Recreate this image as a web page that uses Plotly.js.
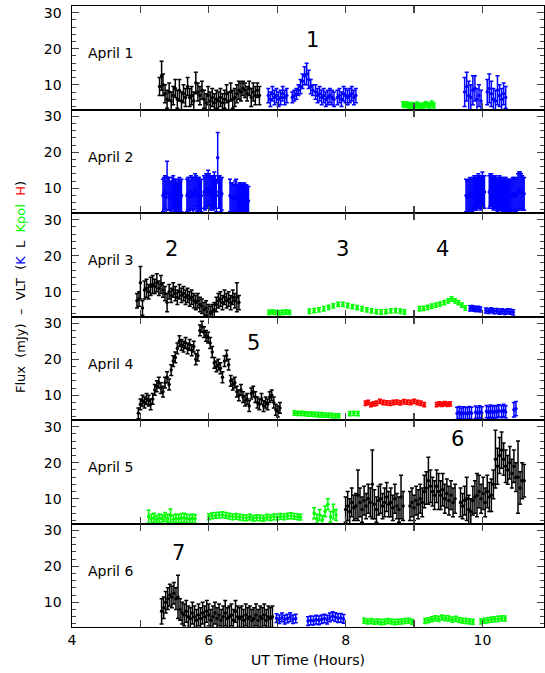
<!DOCTYPE html>
<html>
<head>
<meta charset="utf-8">
<script src="https://cdn.plot.ly/plotly-3.0.1.min.js"></script>
<style>
  html, body { margin: 0; padding: 0; background: #fff; }
  #chart { width: 545px; height: 673px; }
</style>
</head>
<body>
<div id="chart"></div>
<script>
// ---- April 1 ----
const apr1LTime = [5.28,5.31,5.33,5.36,5.39,5.42,5.45,5.48,5.51,5.54,5.57,5.60,5.63,5.66,5.69,5.72,5.75,5.78,5.81,5.84,5.87,5.90,5.93,5.96,5.99,6.02,6.05,6.08,6.11,6.14,6.17,6.20,6.23,6.26,6.29,6.32,6.35,6.38,6.41,6.44,6.47,6.50,6.53,6.56,6.59,6.62,6.65,6.68,6.71,6.74];
const apr1LFlux = [9.5,12.5,10,7.5,6,8,5.5,7,9,6,8.5,5.5,7.5,6.5,9.5,6.5,7,5.5,10.5,8,7,8.5,6,5,7,5.5,6.5,5,6,5.5,6.5,5,6,7.5,5.5,8,6,6.5,7.5,8.5,8,9,8.5,7.5,9,6.5,8,7,8.5,7];
const apr1LErr  = [2.5,4,3,2.5,2.5,2.5,2.5,2.5,2.5,2.5,3,2.5,2.5,2.5,2.5,2.5,2.5,2.5,3,2.5,2.5,2.5,2.5,2.5,2.5,2.5,2.5,2.5,2.5,2.5,2.5,2.5,2.5,2.5,2.5,2.5,2.5,2.5,2.5,2.5,2.5,2,2,2,2,2.5,2.5,2.5,2,2.5];
const apr1KTime = [6.87,6.90,6.93,6.96,6.99,7.02,7.05,7.08,7.11,7.14, 7.22,7.25,7.28,7.31,7.34,7.37,7.40,7.43,7.46,7.49,7.52, 7.56,7.59,7.62,7.65,7.68,7.71,7.74,7.77,7.80,7.83, 7.88,7.91,7.94,7.97,8.00,8.03,8.06,8.09,8.12,8.15, 9.74,9.77,9.80,9.83,9.86,9.89,9.92,9.95,9.98, 10.07,10.10,10.13,10.16,10.19,10.22,10.25,10.28,10.31,10.34];
const apr1KFlux = [7,6,7.5,6.5,7,6,6.5,7.5,6.5,7, 6.5,7,7.5,8.5,9.5,11,12.5,13,11.5,9.5,8.5, 8,7,7.5,6.5,7,6,6.5,7,6.5,6, 6.5,7,6,7.5,7,6.5,7,7.5,6.5,7, 8,9.5,7,6.5,8.5,9,6,7,5.5, 8,9,7.5,6,5.5,8.5,7,6,7.5,6.5];
const apr1KErr  = [2,2,2,2,2,2,2,2,2,2, 1.5,1.5,1.5,1.5,2,2,2.5,3,2.5,2,1.5, 2,2,2,2,2,2,2,2,2,2, 2,2,2,2,2,2,2,2,2,2, 4,4,4,3.5,4,3.5,3,3,3, 3.5,4,3.5,3,3,4,3,3,3,3];
const apr1KpolTime = [8.84,8.87,8.90,8.93,8.96,8.99,9.02,9.05,9.08,9.11,9.14,9.17,9.20,9.23,9.26,9.29];
const apr1KpolFlux = [4.6,4.4,4.5,4.2,4.4,4.1,4.3,4.5,4.2,4.0,4.3,4.6,4.4,4.2,4.8,4.3];

// ---- April 2 ----
const apr2KTime = [5.33,5.345,5.36,5.375,5.39,5.405,5.42,5.435,5.45,5.465,5.48,5.495,5.51,5.525,5.54,5.555,5.57,5.585,5.60, 5.68,5.695,5.71,5.725,5.74,5.755,5.77,5.785,5.80,5.815,5.83,5.845,5.86,5.875,5.89, 5.93,5.945,5.96,5.975,5.99,6.005,6.02,6.035,6.05,6.065,6.08,6.095,6.11,6.13,6.145,6.16,6.175,6.19, 6.31,6.325,6.34,6.355,6.37,6.385,6.40,6.415,6.43,6.445,6.46,6.475,6.49,6.505,6.52,6.535,6.55,6.565,6.58, 9.76,9.775,9.79,9.805,9.82,9.835,9.85,9.865,9.88,9.895,9.91,9.925,9.94,9.955,9.97,9.985,10.00,10.015,10.03, 10.10,10.115,10.13,10.145,10.16,10.175,10.19,10.205,10.22,10.235,10.25,10.265,10.28,10.295,10.31,10.325,10.34,10.355,10.37,10.385,10.40,10.415,10.43,10.445,10.46,10.475,10.49,10.505,10.52,10.535,10.55,10.565,10.58,10.595,10.61];
const apr2KFlux = [8,8.5,9,7.5,13,8.5,8.5,7,7.5,8.5,9,8,8,7.5,7,8,8.5,7.5,8, 8,8.5,8.5,7.5,9,8.5,8,8.5,9.5,9,8,8.5,8.5,7.5,8, 9,8.5,9.5,9,10,9.5,8.5,9,9,8.5,9.5,9,8,18.5,9,9,8,8.5, 8,7.5,7.5,7,7,7.5,8,7,7,7.5,7.5,7,7,7.5,7.5,7,7,6.5,6.5, 8,7.5,7.5,8,8.5,8,8,8.5,9,8.5,8.5,9,9.5,9,8.5,9,9.5,9,9, 9,9.5,9.5,9,8.5,9,9,8.5,8,8.5,9,8.5,8.5,8,8,8.5,8.5,8,8,7.5,7.5,8,8,8.5,8.5,8,8,8.5,9,9.5,9.5,9,9,8.5,8.5];
const apr2KErr  = [4.5,4.5,4.5,4.5,4.5,4.5,4.5,4.5,4.5,4.5,4.5,4.5,4.5,4.5,4.5,4.5,4.5,4.5,4.5, 4.5,4.5,4.5,4.5,4.5,4.5,5,4.5,4.5,4.5,4.5,4.5,4.5,4.5,4.5, 4.5,4.5,4.5,4.5,5,4.5,4.5,4.5,4.5,4.5,5,4.5,4.5,7,4.5,4.5,4.5,4.5, 4.5,4,4,4,4,4.5,4.5,4,4,4,4,4,4,4,4,4,4,4,4, 4.5,4.5,4.5,4.5,4.5,4.5,4.5,4.5,4.5,4.5,4.5,4.5,4.5,4.5,4.5,4.5,5,4.5,4.5, 4.5,4.5,4.5,4.5,4.5,4.5,4.5,4.5,4.5,4.5,4.5,4.5,4.5,4.5,4.5,4.5,4.5,4.5,4.5,4.5,4.5,4.5,4.5,4.5,4.5,4.5,4.5,4.5,5,5,5,5,4.5,4.5,4.5,4.5];

// ---- April 3 ----
const apr3LTime = [4.95,4.98,5.00,5.03,5.06,5.09,5.12,5.15,5.18,5.21,5.24,5.27,5.30,5.33,5.36,5.39,5.42,5.45,5.48,5.51,5.54,5.57,5.60,5.63,5.66,5.69,5.72,5.75,5.78,5.81,5.84,5.87,5.90,5.93,5.96,5.99,6.02,6.05,6.08,6.11,6.14,6.17,6.20,6.23,6.26,6.29,6.32,6.35,6.38,6.41,6.44];
const apr3LFlux = [7.5,8,12.5,5.5,10.5,11,10,11.5,12,11.5,12.5,11,12,10.5,9.5,7,10,9,10.5,9.5,8.5,10,9,9.5,8.5,9,8,8.5,7.5,7,7.5,6.5,6,5,5.5,4.5,4,4.5,5,6.5,7.5,8,7,8.5,7.5,8,7,8.5,7.5,8.5,7];
const apr3LErr  = [2,2,4.5,2,2.5,2.5,2,2.5,2.5,2,2.5,2,2.5,2,2,2.5,2,2,2,2,2,2,2,2,2,2,2,2,2,2,2,2,2,2,2,2,2,2,2,2,2,2,2,2,2,2,2,2,2,4,2];
const apr3KpolTime = [6.88,6.93,6.98,7.03,7.08,7.13,7.18, 7.47,7.54,7.61,7.68,7.75,7.82,7.89,7.96,8.03,8.10,8.17,8.24,8.31,8.38,8.45,8.52,8.59,8.66,8.73,8.80,8.86, 9.08,9.14,9.20,9.26,9.32,9.38,9.44,9.50,9.55,9.60,9.65,9.70,9.75];
const apr3KpolFlux = [4.3,4.4,4.3,4.2,4.3,4.4,4.3, 4.6,4.8,5.0,5.3,5.7,6.1,6.5,6.5,6.2,5.9,5.6,5.3,5.0,4.7,4.5,4.4,4.5,4.7,4.8,4.6,4.4, 5.3,5.4,5.7,6.0,6.3,6.6,7.0,7.5,8.0,7.5,7.0,6.3,5.5];
const apr3KTime = [9.82,9.85,9.88,9.91,9.94,9.97, 10.05,10.09,10.13,10.17,10.21,10.25,10.29,10.33,10.37,10.41,10.45];
const apr3KFlux = [5.4,5.5,5.3,5.2,5.3,5.1, 4.8,4.7,4.9,4.6,4.7,4.5,4.6,4.4,4.6,4.5,4.3];
const apr3KErr  = [0.7,0.7,0.7,0.7,0.7,0.7, 0.7,0.7,0.7,0.7,0.7,0.7,0.7,0.7,0.7,0.7,0.7];

// ---- April 4 ----
const apr4LTime = [4.97,5.00,5.03,5.06,5.09,5.12,5.15,5.18,5.21,5.24,5.27,5.30,5.33,5.36,5.39,5.42,5.45,5.48,5.51,5.54,5.57,5.60,5.63,5.66,5.69,5.72,5.75,5.78,5.81,5.84,5.87,5.90,5.93,5.96,5.99,6.02,6.05,6.08,6.11,6.14,6.17,6.20,6.23,6.26,6.29,6.32,6.35,6.38,6.41,6.44,6.47,6.50,6.53,6.56,6.59,6.62,6.65,6.68,6.71,6.74,6.77,6.80,6.83,6.86,6.89,6.92,6.95,6.98,7.01,7.04];
const apr4LFlux = [5.0,7.5,8.5,8.0,9.0,8.5,7.5,9.0,11.5,12.5,13.5,12.0,11.0,13.5,15.0,13.0,17.0,19.5,20.5,23.0,25.0,24.0,23.5,24.5,23.0,24.0,22.5,23.5,20.0,21.0,28.0,29.0,27.5,26.5,26.0,24.5,22.0,19.0,18.0,18.5,17.5,15.0,19.5,21.0,18.5,14.0,13.0,13.5,11.0,10.0,11.5,9.5,8.5,9.0,7.0,10.5,11.0,9.5,8.0,7.5,9.0,7.0,8.0,7.5,9.5,10.0,8.0,6.0,5.5,6.5];
const apr4LErr  = [1.5,1.5,1.5,1.5,1.5,1.5,1.5,1.5,1.5,1.5,1.5,1.5,1.5,1.5,1.5,1.5,1.5,1.5,1.5,1.5,1.5,1.5,1.5,1.5,1.5,1.5,1.5,1.5,1.5,1.5,1.5,1.5,1.5,1.5,1.5,1.5,1.5,1.5,1.5,1.5,1.5,1.5,1.5,1.5,1.5,1.5,1.5,1.5,1.5,1.5,1.5,1.5,1.5,1.5,1.5,1.5,1.5,1.5,1.5,1.5,1.5,1.5,1.5,1.5,1.5,1.5,1.5,1.5,1.5,1.5];
const apr4KpolTime = [7.25,7.30,7.35,7.40,7.45,7.50,7.55,7.60,7.65,7.70,7.75,7.80,7.85,7.90, 8.06,8.12,8.18];
const apr4KpolFlux = [5.1,5.0,5.0,4.9,4.8,4.8,4.7,4.6,4.6,4.5,4.5,4.4,4.3,4.3, 4.9,5.0,4.9];
const apr4HTime = [8.29,8.33,8.37,8.41,8.45,8.50,8.55,8.60,8.65,8.70,8.75,8.80,8.85,8.90,8.95,9.00,9.05,9.10,9.15, 9.33,9.37,9.41,9.45,9.49,9.53];
const apr4HFlux = [7.8,8.0,7.4,7.6,7.8,8.3,8.0,7.9,7.8,8.0,8.1,7.9,8.2,8.1,8.0,8.3,8.0,7.8,7.4, 7.4,7.6,7.5,7.7,7.5,7.6];
const apr4KTime = [9.63,9.66,9.69,9.72,9.75,9.78,9.81,9.84, 9.90,9.93,9.96,9.99, 10.06,10.09,10.12,10.15,10.18,10.21,10.24, 10.28,10.31,10.34, 10.46,10.49];
const apr4KFlux = [5,5.2,4.8,5.1,5,4.9,5.2,5, 5.3,5,5.4,5.1, 5.5,5.2,5.6,5.3,5.5,5.4,5.7, 5.5,5.8,5.4, 6,6.3];
const apr4KErr  = [1.7,1.7,1.7,1.7,1.7,1.7,1.7,1.7, 1.7,1.7,1.7,1.7, 1.7,1.7,1.7,1.7,1.7,1.7,1.7, 1.7,1.7,1.7, 2,2];

// ---- April 5 ----
const apr5KpolTime = [5.12,5.16,5.20,5.24,5.28,5.32,5.36,5.40,5.44,5.48,5.52,5.56,5.60,5.64,5.68,5.72,5.76,5.80, 6.00,6.05,6.10,6.15,6.20,6.25,6.30,6.35,6.40,6.45,6.50,6.55,6.60,6.65,6.70,6.75,6.80,6.85,6.90,6.95,7.00,7.05,7.10,7.15,7.20,7.25,7.30,7.34, 7.54,7.58,7.62,7.66,7.70,7.74,7.78,7.82,7.86];
const apr5KpolFlux = [5,4.5,4.8,4.2,4.6,4.4,5,4.5,5.4,4.3,4.6,4.4,4.7,4.8,4.5,4.3,4.6,4.4, 5.0,5.3,5.4,5.5,5.6,5.4,5.2,5.0,5.1,4.9,4.8,4.7,4.9,4.6,4.8,4.7,4.6,4.9,4.8,5.0,4.9,5.1,5.0,5.2,5.3,5.1,5.0,4.9, 6,4.5,5.5,4.2,6.5,8.5,5,6.5,5.5];
const apr5KpolErr  = [1.8,1.2,1.2,1.2,1.2,1.2,1.2,1.2,1.8,1.2,1.2,1.2,1.2,1.2,1.2,1.2,1.2,1.2, 0.8,0.8,0.8,0.8,0.8,0.8,0.8,0.8,0.8,0.8,0.8,0.8,0.8,0.8,0.8,0.8,0.8,0.8,0.8,0.8,0.8,0.8,0.8,0.8,0.8,0.8,0.8,0.8, 1.5,1.2,1.5,1.2,1.5,1.5,1.5,2,1.5];
const apr5LTime = [8.00,8.03,8.06,8.09,8.12,8.15,8.18,8.21,8.24,8.27,8.30,8.33,8.36,8.39,8.42,8.45,8.48,8.51,8.54,8.57,8.60,8.63,8.66,8.69,8.72,8.75,8.78,8.81,8.84, 8.94,8.97,9.00,9.03,9.06,9.09,9.12,9.15,9.18,9.21,9.24,9.27,9.30,9.33,9.36,9.39,9.42,9.45,9.48,9.51,9.54,9.57,9.60, 9.68,9.71,9.74,9.77,9.80,9.83,9.86,9.89,9.92,9.95,9.98,10.01,10.04,10.07,10.10,10.13, 10.16,10.19,10.22,10.25,10.28,10.31,10.34,10.37,10.40,10.43,10.46,10.49,10.52,10.55,10.58,10.61];
const apr5LFlux = [7,8,6.5,9,7.5,8,11,9,7,9.5,8,10,9,14,8.5,7,9.5,10,8,9,10.5,8.5,9,7.5,10,8,7,10.5,8, 8,9,7.5,9.5,8.5,10,9,12,13,15,13.5,12,11,13.5,12,11,12.5,10,11.5,9.5,11,9,10, 9,8,9.5,10,7,6.5,9.5,10.5,11,12,10,11.5,9,12,10.5,11, 14,21,19,22,23.5,21,19,18,20,17,19,16,16,13,15,15];
const apr5LErr  = [3.5,4,3.5,4,3.5,3.5,7,4,3.5,4,3.5,4,4,9.5,4,3.5,4,4,3.5,4,4,3.5,4,3.5,4,3.5,3.5,6,4, 4,4,3.5,4,4,4,4,4.5,4.5,6.5,4.5,4,4,4.5,5,4,4.5,4,4,4,4,4,4, 4,3.5,4,6,4,3.5,4,4.5,6,4.5,4,4.5,4,4.5,4,4.5, 4,8,5,5,5,4.5,4.5,4,4.5,4,4.5,4,10,4.5,5,4.5];

// ---- April 6 ----
const apr6LTime = [5.31,5.34,5.37,5.40,5.43,5.46,5.49,5.52,5.55,5.58,5.61,5.64,5.67,5.70,5.73,5.76,5.79,5.82,5.85,5.88,5.91,5.94,5.97,6.00,6.03,6.06,6.09,6.12,6.15,6.18,6.21,6.24,6.27,6.30,6.33,6.36,6.39,6.42,6.45,6.48,6.51,6.54,6.57,6.60,6.63,6.66,6.69,6.72,6.75,6.78,6.81,6.84,6.87,6.90,6.93];
const apr6LFlux = [7.5,8.5,10,11,12,11.5,12.5,11,11.5,8,7,6.5,7.5,6,5.5,7,6,5,6.5,5.5,7,6,7.5,6.5,5,6,7,5.5,6.5,5,6,7,5.5,6,6.5,5,7.5,6,5.5,6,5,6.5,5.5,6,5,5.5,6.5,5,6,5.5,6.5,5,6,5.5,6];
const apr6LErr  = [3.5,3,3,3,3,3,3,3,6,3,3,3,3,3,3,3,3,3,3,3,3,3,3,3,3,3,3,3,3,3,3,3.5,3,3,3,3,3,3,3,3,3,3,3,3,3,3,3,3,3,3,3,3,3,3,3];
const apr6KTime = [6.99,7.03,7.07,7.11,7.15,7.19,7.23,7.27, 7.45,7.49,7.53,7.57,7.61,7.65,7.69,7.73,7.77,7.81,7.85,7.89,7.93,7.97];
const apr6KFlux = [5.6,5.3,5.8,5.2,5.5,5.9,5.3,5.5, 4.8,5.0,4.9,5.2,5.0,5.3,5.5,5.2,5.8,6.2,5.9,5.6,5.7,5.4];
const apr6KErr  = [1.2,1.2,1.2,1.2,1.2,1.2,1.2,1.2, 1.2,1.2,1.2,1.2,1.2,1.2,1.2,1.2,1.2,1.2,1.2,1.2,1.2,1.2];
const apr6KpolTime = [8.27,8.32,8.37,8.42,8.47,8.52,8.57,8.62,8.67,8.72,8.77,8.82,8.87,8.92,8.97, 9.16,9.21,9.26,9.31,9.36,9.41,9.46,9.51,9.56,9.61,9.66,9.71,9.76,9.81,9.86, 9.98,10.03,10.08,10.13,10.18,10.23,10.28,10.33];
const apr6KpolFlux = [4.9,4.7,4.8,4.6,4.7,4.5,4.6,4.8,4.7,4.5,4.6,4.7,4.8,4.9,4.6, 4.8,5.0,5.3,5.6,5.4,5.8,5.6,5.5,5.2,5.4,5.1,4.9,4.8,4.7,4.6, 4.7,4.9,5.0,5.2,5.3,5.4,5.6,5.5];

// small per-band errors for the polarimetric and H points
const kpolErr = 0.7;
const hErr = 0.6;

const dayLabels = ['April 1', 'April 2', 'April 3', 'April 4', 'April 5', 'April 6'];
const eventTags = [
  { day: 1, text: '1', t: 7.52, f: 22.4 },
  { day: 3, text: '2', t: 5.46, f: 21.9 },
  { day: 3, text: '3', t: 7.96, f: 21.9 },
  { day: 3, text: '4', t: 9.42, f: 21.9 },
  { day: 4, text: '5', t: 6.66, f: 24.5 },
  { day: 5, text: '6', t: 9.63, f: 26.5 },
  { day: 6, text: '7', t: 5.55, f: 23.6 }
];

const BLACK = '#000000', BLUE = '#0000ff', GREEN = '#00ff00', RED = '#ff0000';
const FONT = 'DejaVu Sans';

function ax(day) { return day === 1 ? '' : String(day); }

function band(day, t, f, err, color) {
  const eb = Array.isArray(err)
    ? { type: 'data', array: err }
    : { type: 'constant', value: err };
  return {
    type: 'scatter', mode: 'markers',
    x: t, y: f,
    xaxis: 'x' + ax(day), yaxis: 'y' + ax(day),
    marker: { color: color, size: 3.5 },
    error_y: Object.assign(eb, { visible: true, color: color, thickness: 1.5, width: 2 }),
    hoverinfo: 'skip', showlegend: false
  };
}

const data = [
  band(1, apr1LTime, apr1LFlux, apr1LErr, BLACK),
  band(1, apr1KTime, apr1KFlux, apr1KErr, BLUE),
  band(1, apr1KpolTime, apr1KpolFlux, kpolErr, GREEN),
  band(2, apr2KTime, apr2KFlux, apr2KErr, BLUE),
  band(3, apr3LTime, apr3LFlux, apr3LErr, BLACK),
  band(3, apr3KpolTime, apr3KpolFlux, 0.6, GREEN),
  band(3, apr3KTime, apr3KFlux, apr3KErr, BLUE),
  band(4, apr4LTime, apr4LFlux, apr4LErr, BLACK),
  band(4, apr4KpolTime, apr4KpolFlux, 0.6, GREEN),
  band(4, apr4HTime, apr4HFlux, hErr, RED),
  band(4, apr4KTime, apr4KFlux, apr4KErr, BLUE),
  band(5, apr5KpolTime, apr5KpolFlux, apr5KpolErr, GREEN),
  band(5, apr5LTime, apr5LFlux, apr5LErr, BLACK),
  band(6, apr6LTime, apr6LFlux, apr6LErr, BLACK),
  band(6, apr6KTime, apr6KFlux, apr6KErr, BLUE),
  band(6, apr6KpolTime, apr6KpolFlux, kpolErr, GREEN)
];

const layout = {
  width: 545, height: 673,
  margin: { l: 72, r: 1, t: 6, b: 46 },
  paper_bgcolor: '#fff', plot_bgcolor: '#fff',
  font: { family: FONT, size: 14, color: '#000' },
  showlegend: false,
  annotations: []
};

for (let d = 1; d <= 6; d++) {
  const lo = (6 - d) / 6, hi = (7 - d) / 6;
  layout['xaxis' + ax(d)] = {
    anchor: 'y' + ax(d),
    range: [4, 10.9],
    tickmode: 'array',
    tickvals: [4, 5, 6, 7, 8, 9, 10],
    ticktext: ['4', '', '6', '', '8', '', '10'],
    showticklabels: d === 6,
    ticks: 'inside', ticklen: 7, tickwidth: 1.2,
    showline: true, linecolor: '#000', linewidth: 1, mirror: 'ticks',
    showgrid: false, zeroline: false,
    tickfont: { family: FONT, size: 14 }
  };
  layout['yaxis' + ax(d)] = {
    anchor: 'x' + ax(d),
    domain: [lo, hi],
    range: [3.15, 31.85],
    tickmode: 'linear', tick0: 0, dtick: 10,
    ticks: 'inside', ticklen: 7, tickwidth: 1.2,
    minor: { tickmode: 'linear', tick0: 0, dtick: 2, ticks: 'inside', ticklen: 4, tickwidth: 1 },
    ticklabelstandoff: 6,
    showline: true, linecolor: '#000', linewidth: 1.5, mirror: 'ticks',
    showgrid: false, zeroline: false,
    tickfont: { family: FONT, size: 14 }
  };
  layout.annotations.push({
    xref: 'x' + ax(d), yref: 'y' + ax(d),
    x: 4.2, y: 18.7, xanchor: 'left', yanchor: 'middle',
    text: dayLabels[d - 1], showarrow: false,
    font: { family: FONT, size: 14 }
  });
}

eventTags.forEach(function (tag) {
  layout.annotations.push({
    xref: 'x' + ax(tag.day), yref: 'y' + ax(tag.day),
    x: tag.t, y: tag.f, xanchor: 'center', yanchor: 'middle',
    text: tag.text, showarrow: false,
    font: { family: FONT, size: 21 }
  });
});

const sp = '\u00A0 ';
layout.annotations.push({
  xref: 'paper', yref: 'paper',
  x: (20 - 72) / 472, y: (627 - 287) / 621,
  xanchor: 'center', yanchor: 'middle', textangle: -90,
  text: 'Flux' + sp + '(mJy)' + sp + '\u2013' + sp + 'VLT' + sp + '(' +
        '<span style="color:' + BLUE + '">K</span>' + sp + 'L' + sp +
        '<span style="color:' + GREEN + '">Kpol</span>' + sp +
        '<span style="color:' + RED + '">H</span>)',
  showarrow: false,
  font: { family: FONT, size: 13 }
});

layout.annotations.push({
  xref: 'paper', yref: 'paper',
  x: 0.5, y: (627 - 660) / 621,
  xanchor: 'center', yanchor: 'middle',
  text: 'UT Time (Hours)', showarrow: false,
  font: { family: FONT, size: 14 }
});

Plotly.newPlot('chart', data, layout, { displayModeBar: false, staticPlot: true });
</script>
</body>
</html>
